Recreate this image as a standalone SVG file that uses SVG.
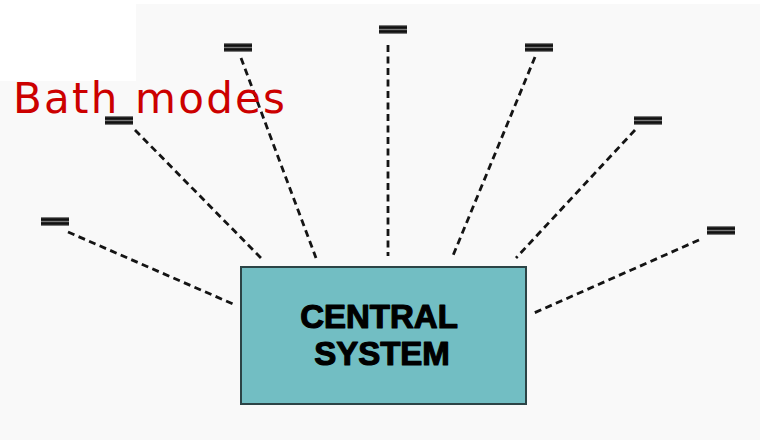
<svg xmlns="http://www.w3.org/2000/svg" width="760" height="440" viewBox="0 0 760 440">
  <defs>
    <style>
      .conn { fill: none; stroke: #141414; stroke-width: 2.8; stroke-dasharray: 7 4.5; }
      .bar-bg { fill: #7a7a7a; }
      .bar { fill: #111; }
      .box { fill: #72bec3; stroke: #2c4446; stroke-width: 2; }
      .label { font-family: "Liberation Sans", Arial, sans-serif; font-weight: bold; font-size: 33px; fill: #000; stroke: #000; stroke-width: 1.2; stroke-linejoin: round; text-anchor: middle; }
      .title { font-family: "DejaVu Sans", Verdana, sans-serif; font-size: 42px; fill: #cc0000; }
    </style>
    <!-- small double-bar terminal symbol -->
    <g id="term">
      <rect class="bar-bg" x="0" y="0" width="28" height="9"/>
      <rect class="bar" x="0" y="1.2" width="28" height="2.6"/>
      <rect class="bar" x="0" y="5.2" width="28" height="2.6"/>
    </g>
  </defs>

  <!-- backdrop -->
  <rect x="0" y="0" width="760" height="440" fill="#ffffff"/>
  <path d="M136 4 H760 V440 H0 V81 H136 Z" fill="#f9f9f9"/>

  <!-- connectors -->
  <g id="connectors">
    <line class="conn" x1="68" y1="232" x2="233" y2="304"/>
    <line class="conn" x1="135" y1="130" x2="261" y2="258"/>
    <line class="conn" x1="241" y1="58" x2="316" y2="258"/>
    <line class="conn" x1="388" y1="45" x2="388" y2="256"/>
    <line class="conn" x1="535" y1="57" x2="452" y2="258"/>
    <line class="conn" x1="635" y1="130" x2="516" y2="258"/>
    <line class="conn" x1="699" y1="240" x2="534" y2="313"/>
  </g>

  <!-- terminals -->
  <g id="t1"><use href="#term" x="41" y="217"/></g>
  <g id="t2"><use href="#term" x="105" y="116"/></g>
  <g id="t3"><use href="#term" x="224" y="43"/></g>
  <g id="t4"><use href="#term" x="379" y="25"/></g>
  <g id="t5"><use href="#term" x="525" y="43"/></g>
  <g id="t6"><use href="#term" x="634" y="116"/></g>
  <g id="t7"><use href="#term" x="707" y="226"/></g>

  <!-- central node -->
  <g id="central">
    <rect class="box" x="241" y="267" width="285" height="137"/>
    <text class="label" x="379" y="328">CENTRAL</text>
    <text class="label" x="382" y="365">SYSTEM</text>
  </g>

  <!-- heading -->
  <text class="title" x="13" y="113" textLength="272" lengthAdjust="spacing">Bath modes</text>
</svg>
